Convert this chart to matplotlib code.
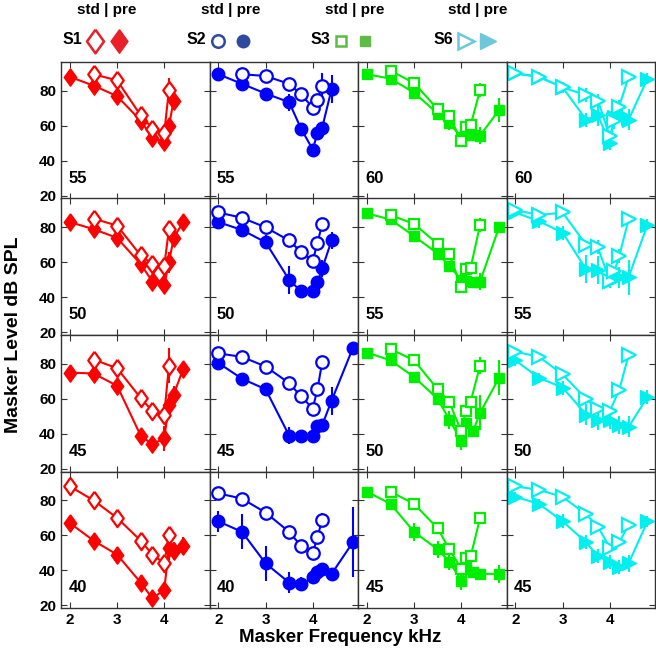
import matplotlib.pyplot as plt

plt.rcParams['font.family'] = ['Liberation Sans', 'DejaVu Sans']
plt.rcParams['font.weight'] = 'bold'

subjects = ['S1', 'S2', 'S3', 'S6']
probe_levels = [[55, 50, 45, 40], [55, 50, 45, 40], [60, 55, 50, 45], [60, 55, 50, 45]]

# S1 (diamonds)
s1_std_f = [[2.5, 3, 3.5, 3.75, 4, 4.1],
            [2.5, 3, 3.5, 3.75, 3.88, 4, 4.1],
            [2.5, 3, 3.5, 3.75, 4, 4.1],
            [2, 2.5, 3, 3.5, 3.75, 4, 4.1]]
s1_std_db = [[89.5, 86, 66, 58.5, 56, 80.5],
             [85, 81, 64, 59, 54, 58, 79],
             [82.5, 77.5, 60.5, 53, 51, 79],
             [88, 80, 70, 57, 49, 44, 60]]
s1_std_err = [[0, 0, 0, 0, 0, 7],
              [0, 0, 0, 0, 0, 0, 4],
              [0, 0, 0, 0, 0, 10],
              [0, 0, 0, 0, 0, 0, 5]]
s1_pre_f = [[2, 2.5, 3, 3.5, 3.75, 4, 4.1, 4.2],
            [2, 2.5, 3, 3.5, 3.75, 4, 4.1, 4.2, 4.4],
            [2, 2.5, 3, 3.5, 3.75, 4, 4.1, 4.2, 4.4],
            [2, 2.5, 3, 3.5, 3.75, 4, 4.1, 4.2, 4.4]]
s1_pre_db = [[88, 83, 77, 63, 53, 51, 60, 74.5],
             [83, 79, 74, 59, 49, 47, 60, 74, 83],
             [75, 74.5, 67.5, 39, 34, 37.5, 56.5, 62.5, 77],
             [67, 57, 49, 33, 24, 29, 53, 51, 54]]
s1_pre_err = [[0, 0, 4, 0, 0, 0, 0, 3],
              [0, 0, 0, 0, 0, 4, 6, 4, 0],
              [0, 0, 0, 0, 0, 7, 5, 5, 0],
              [0, 0, 4, 3, 3, 4, 7, 5, 5]]

# S2 (circles)
s2_std_f = [[2.5, 3, 3.5, 3.75, 4, 4.1, 4.2],
            [2, 2.5, 3, 3.5, 3.75, 4, 4.1, 4.2],
            [2, 2.5, 3, 3.5, 3.75, 4, 4.1, 4.2],
            [2, 2.5, 3, 3.5, 3.75, 4, 4.1, 4.2]]
s2_std_db = [[89.5, 88.5, 84, 78, 70.5, 75, 83],
             [88.5, 85.5, 80, 72.5, 66, 61, 71, 82],
             [86, 84, 78.5, 69, 61.5, 54.5, 65.5, 81],
             [84, 81, 73, 62, 54, 50, 59, 69]]
s2_std_err = [[0, 0, 0, 3, 0, 3, 7],
              [0, 0, 0, 0, 3, 0, 0, 0],
              [0, 0, 0, 0, 0, 0, 0, 0],
              [0, 0, 0, 0, 0, 0, 0, 4]]
s2_pre_f = [[2, 2.5, 3, 3.5, 3.75, 4, 4.1, 4.2, 4.4],
            [2, 2.5, 3, 3.5, 3.75, 4, 4.1, 4.2, 4.4],
            [2, 2.5, 3, 3.5, 3.75, 4, 4.1, 4.2, 4.4, 4.85],
            [2, 2.5, 3, 3.5, 3.75, 4, 4.1, 4.2, 4.4, 4.85]]
s2_pre_db = [[89.5, 84, 78.5, 73.5, 58.5, 46.5, 56, 59, 81],
             [83, 78.5, 71.5, 50, 43.5, 43.5, 48.5, 56.5, 72.5],
             [80.5, 71.5, 65.5, 39, 39, 39, 44.5, 45, 59, 89],
             [68, 62, 44, 33, 32, 36, 39, 41, 38, 56]]
s2_pre_err = [[0, 0, 0, 5, 0, 0, 0, 0, 8],
              [0, 0, 4, 8, 0, 0, 0, 5, 5],
              [0, 0, 0, 5, 3, 0, 0, 0, 8, 0],
              [6, 10, 10, 6, 4, 4, 3, 3, 3, 20]]

# S3 (squares)
s3_std_f = [[2.5, 3, 3.5, 3.75, 4, 4.1, 4.2, 4.4]] * 4
s3_std_db = [[91.5, 84.5, 69.5, 65.5, 51.5, 59.5, 60.5, 80.5],
             [87, 82, 70.5, 64.5, 46, 56, 57, 81.5],
             [88.5, 82, 65.5, 58, 41.5, 53, 58.5, 79],
             [85, 78, 64, 52, 41, 47, 48, 70]]
s3_std_err = [[0, 0, 0, 3, 3, 3, 0, 4],
              [0, 0, 0, 0, 0, 3, 0, 4],
              [0, 0, 0, 0, 0, 3, 0, 5],
              [0, 0, 0, 0, 0, 0, 0, 3]]
s3_pre_f = [[2, 2.5, 3, 3.5, 3.75, 4, 4.1, 4.25, 4.4, 4.8]] * 4
s3_pre_db = [[89.5, 87, 79, 67, 61.5, 53.5, 55, 55, 54.5, 69],
             [88, 84.5, 75, 65, 58, 50, 49.5, 49, 49, 80],
             [86.5, 82, 72.5, 60, 48, 36, 46.5, 41.5, 52, 72],
             [85, 78, 62, 52, 45, 34, 41, 39, 38, 38]]
s3_pre_err = [[0, 0, 0, 3, 4, 4, 0, 0, 5, 7],
              [0, 0, 0, 3, 3, 0, 0, 0, 5, 0],
              [0, 0, 0, 0, 5, 5, 0, 0, 10, 10],
              [0, 0, 5, 5, 5, 5, 4, 3, 3, 5]]

# S6 (right triangles)
s6_std_f = [[2, 2.5, 3, 3.5, 3.75, 4, 4.1, 4.2, 4.4],
            [2, 2.5, 3, 3.5, 3.75, 4, 4.1, 4.2, 4.4],
            [2, 2.5, 3, 3.5, 3.75, 4, 4.2, 4.4],
            [2, 2.5, 3, 3.5, 3.75, 4, 4.2, 4.4]]
s6_std_db = [[90, 88, 82, 77.5, 74.5, 54, 63, 71, 88],
             [90, 87, 88.5, 70, 68.5, 49.5, 55, 63.5, 84.5],
             [87, 84, 74, 60, 54, 53, 65, 85],
             [88, 86, 82, 72, 65, 53, 56, 66]]
s6_std_err = [[0, 0, 0, 4, 4, 0, 5, 4, 0],
              [0, 0, 0, 0, 4, 0, 0, 4, 0],
              [0, 0, 0, 0, 0, 0, 0, 0],
              [0, 0, 0, 0, 0, 0, 0, 0]]
s6_pre_f = [[2, 2.5, 3, 3.5, 3.75, 4, 4.1, 4.25, 4.4, 4.8],
            [2, 2.5, 3, 3.5, 3.75, 4, 4.2, 4.4, 4.8],
            [2, 2.5, 3, 3.5, 3.75, 4, 4.2, 4.4, 4.8],
            [2, 2.5, 3, 3.5, 3.75, 4, 4.2, 4.4, 4.8]]
s6_pre_db = [[90, 88, 82, 63.5, 66, 50, 65, 66, 63.5, 87],
             [88.5, 83.5, 77, 56, 55.5, 49.5, 51.5, 51.5, 81.5],
             [82, 72, 66.5, 51, 48, 48, 45, 44, 61],
             [82, 78, 68, 56, 48, 45, 42, 44, 68]]
s6_pre_err = [[2, 3, 3, 4, 6, 4, 4, 6, 6, 3],
              [2, 4, 4, 8, 8, 4, 6, 10, 3],
              [3, 3, 4, 6, 6, 5, 5, 6, 4],
              [3, 3, 4, 4, 4, 4, 4, 5, 3]]

std_f = [s1_std_f, s2_std_f, s3_std_f, s6_std_f]
std_db = [s1_std_db, s2_std_db, s3_std_db, s6_std_db]
std_err = [s1_std_err, s2_std_err, s3_std_err, s6_std_err]
pre_f = [s1_pre_f, s2_pre_f, s3_pre_f, s6_pre_f]
pre_db = [s1_pre_db, s2_pre_db, s3_pre_db, s6_pre_db]
pre_err = [s1_pre_err, s2_pre_err, s3_pre_err, s6_pre_err]

colors = ['#ff0000', '#0000ff', '#00ee00', '#00f0f0']
legend_colors = ['#e8202a', '#2e4a9e', '#5dbb46', '#6cc8da']
diamond = [(0, 1), (0.72, 0), (0, -1), (-0.72, 0), (0, 1)]
markers = [diamond, 'o', 's', '>']
msizes = [12.5, 9, 7, 9.5]

fig = plt.figure(figsize=(6.56, 6.64), dpi=100)
W, H = 656, 664
left, right, top, bottom = 61, 655, 62, 608
cw = (right - left) / 4
rh = (bottom - top) / 4

for c in range(4):
    for r in range(4):
        ax = fig.add_axes([(left + c * cw) / W, 1 - (top + (r + 1) * rh) / H, cw / W, rh / H])
        col = colors[c]
        ax.errorbar(pre_f[c][r], pre_db[c][r], yerr=pre_err[c][r], color=col, lw=1.5,
                    marker=markers[c], ms=msizes[c], mfc=col, mec=col, elinewidth=1.5, capsize=0)
        ax.errorbar(std_f[c][r], std_db[c][r], yerr=std_err[c][r], color=col, lw=1.5,
                    marker=markers[c], ms=msizes[c], mfc='white', mec=col, mew=1.6,
                    elinewidth=1.5, capsize=0)
        ax.set_xlim(1.81, 4.96)
        ax.set_ylim(18.5, 96.5)
        ax.set_xticks([2, 3, 4])
        ax.set_yticks([20, 40, 60, 80])
        ax.tick_params(direction='in', top=True, right=True, length=4, width=0.8,
                       labelsize=11, colors='#333333', labelcolor='black')
        if c > 0:
            ax.set_yticklabels([])
        if r < 3:
            ax.set_xticklabels([])
        for lab in ax.get_xticklabels() + ax.get_yticklabels():
            lab.set_fontweight('bold')
        for sp in ax.spines.values():
            sp.set_color('#333333')
            sp.set_linewidth(1.0)
        ax.text(0.05, 0.15, str(probe_levels[c][r]), transform=ax.transAxes,
                fontsize=12, fontweight='bold', va='center', ha='left')

# header legend
hdr = fig.add_axes([0, 0, 1, 1], facecolor='none')
hdr.set_xlim(0, W)
hdr.set_ylim(H, 0)
hdr.axis('off')
std_x = [107, 231, 355, 478]
lab_x = [72, 196, 320, 443]
m_open = [95, 218, 341, 466]
m_fill = [119, 243, 365, 488]
lsz = [17, 9, 7.5, 11]
for i in range(4):
    hdr.text(std_x[i], 10, 'std | pre', fontsize=11, fontweight='bold', ha='center', va='center')
    hdr.text(lab_x[i], 40, subjects[i], fontsize=11.5, fontweight='bold', ha='center', va='center')
    hdr.plot([m_open[i]], [41], marker=markers[i], ms=lsz[i], mfc='white',
             mec=legend_colors[i], mew=1.8, ls='none')
    hdr.plot([m_fill[i]], [41], marker=markers[i], ms=lsz[i], mfc=legend_colors[i],
             mec=legend_colors[i], ls='none')

fig.text(14 / W, 1 - 335 / H, 'Masker Level dB SPL', rotation=90, fontsize=14,
         fontweight='bold', ha='center', va='center')
fig.text(340 / W, 1 - 637 / H, 'Masker Frequency kHz', fontsize=13.5,
         fontweight='bold', ha='center', va='center')

fig.savefig('out.png', dpi=100)
